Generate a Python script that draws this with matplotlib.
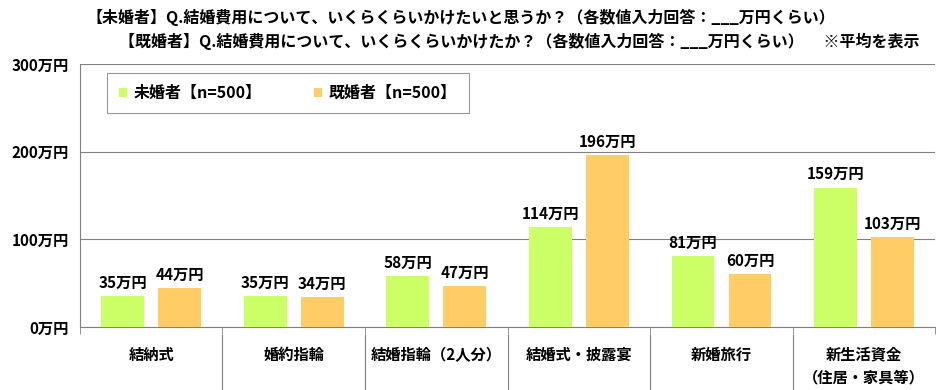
import matplotlib
matplotlib.use('Agg')
import matplotlib.pyplot as plt
import matplotlib.transforms as mtransforms
import numpy as np

plt.rcParams['font.family'] = ['Noto Sans CJK JP', 'DejaVu Sans']

categories = ['結納式', '婚約指輪', '結婚指輪（2人分）', '結婚式・披露宴', '新婚旅行', '新生活資金\n（住居・家具等）']
unmarried = [35, 35, 58, 114, 81, 159]
married = [44, 34, 47, 196, 60, 103]
series_names = ['未婚者【n=500】', '既婚者【n=500】']
yticks = [0, 100, 200, 300]

green = '#ccff66'
orange = '#ffcc66'


def main():
    fig = plt.figure(figsize=(9.4, 3.9), dpi=100)
    ax = fig.add_axes([0.085, 0.1615, 0.91, 0.6745])

    x = np.arange(len(categories))
    w = 0.30
    b1 = ax.bar(x - 0.2, unmarried, w, color=green, label=series_names[0], zorder=3)
    b2 = ax.bar(x + 0.2, married, w, color=orange, label=series_names[1], zorder=3)

    for bars, vals in ((b1, unmarried), (b2, married)):
        for rect, v in zip(bars, vals):
            ax.text(rect.get_x() + rect.get_width() / 2, v + 6, f'{v}万円',
                    ha='center', va='bottom', fontsize=11, fontweight='bold')

    ax.set_xlim(-0.5, len(categories) - 0.5)
    ax.set_ylim(0, 300)
    ax.set_yticks(yticks)
    ax.set_yticklabels([f'{t}万円' for t in yticks], fontsize=11, fontweight='bold')
    ax.yaxis.grid(True, color='#808080', linewidth=0.8, zorder=0)
    ax.tick_params(axis='y', length=0, pad=8)

    # category boundaries: small ticks + divider lines under the axis
    ax.set_xticks(x)
    ax.set_xticklabels([])
    ax.set_xticks(np.arange(len(categories) + 1) - 0.5, minor=True)
    ax.tick_params(axis='x', which='major', length=0)
    ax.tick_params(axis='x', which='minor', length=5, color='#808080', direction='out')

    for s in ['top', 'right']:
        ax.spines[s].set_visible(False)
    ax.spines['left'].set_color('#808080')
    ax.spines['bottom'].set_color('#808080')

    trans = mtransforms.blended_transform_factory(ax.transData, ax.transAxes)
    for i, c in enumerate(categories):
        ax.text(i, -0.075, c, transform=trans, ha='center', va='top',
                fontsize=11, fontweight='bold', linespacing=1.5)
    for b in np.arange(1, len(categories)) - 0.5:
        ax.plot([b, b], [-0.03, -0.25], transform=trans, color='#808080',
                linewidth=0.8, clip_on=False)

    leg = ax.legend(loc='upper left', bbox_to_anchor=(0.032, 0.965), ncol=2,
                    prop={'size': 11.5, 'weight': 'bold'}, frameon=True, fancybox=False,
                    edgecolor='#808080', handlelength=0.5, handleheight=0.5,
                    borderpad=0.75, columnspacing=3.3, handletextpad=0.4,
                    borderaxespad=0)
    leg.get_frame().set_linewidth(0.8)

    fig.text(0.49, 0.955, '【未婚者】Q.結婚費用について、いくらくらいかけたいと思うか？（各数値入力回答：___万円くらい）',
             ha='center', va='center', fontsize=11.5, fontweight='bold')
    fig.text(0.552, 0.895, '【既婚者】Q.結婚費用について、いくらくらいかけたか？（各数値入力回答：___万円くらい）　 ※平均を表示',
             ha='center', va='center', fontsize=11.5, fontweight='bold')

    fig.savefig('out.png', dpi=100)


if __name__ == '__main__':
    main()
